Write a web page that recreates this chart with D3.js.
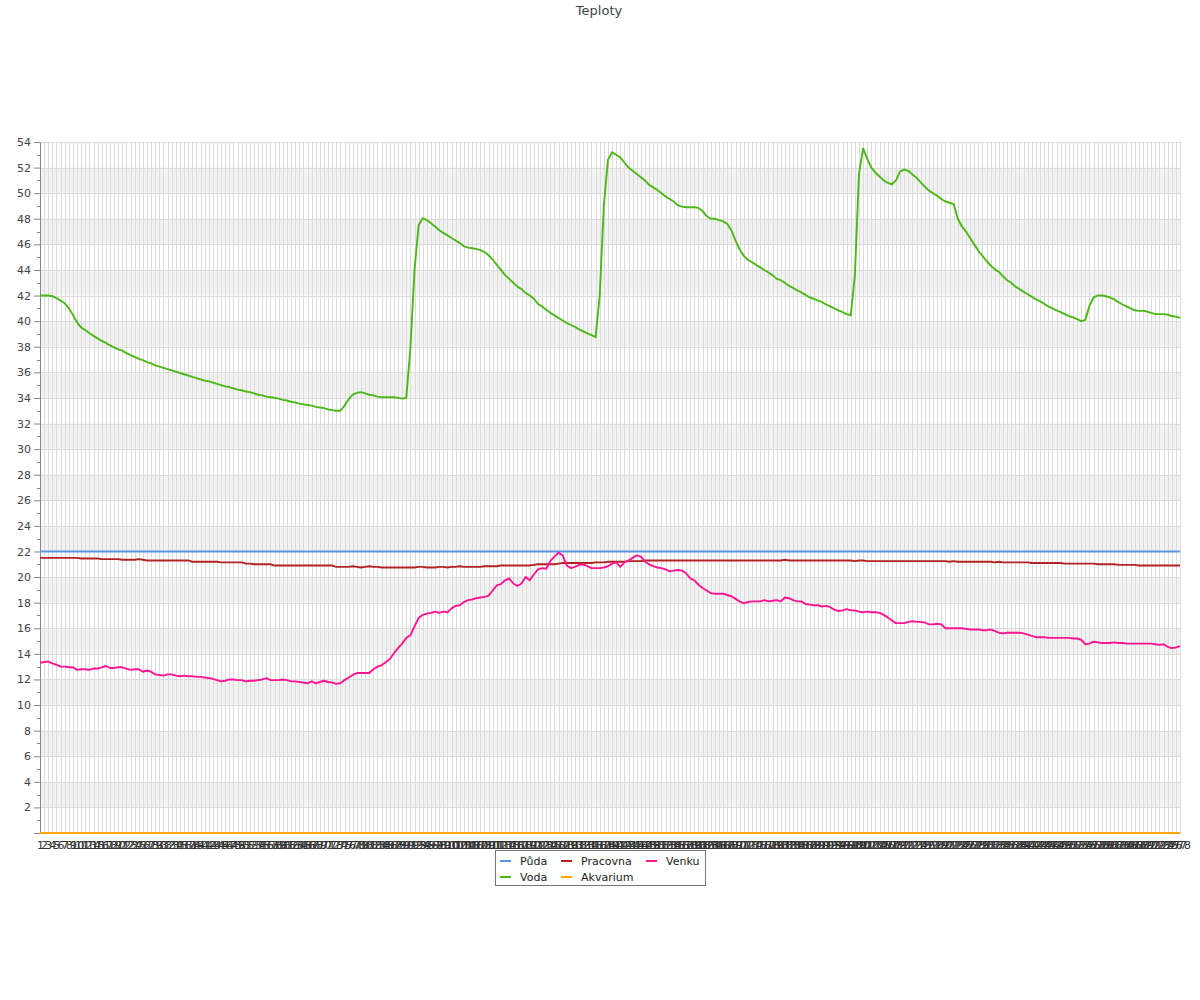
<!DOCTYPE html>
<html><head><meta charset="utf-8">
<script src="https://cdn.jsdelivr.net/npm/d3@7"></script>
<style>body{margin:0;background:#fff;} svg{display:block;font-family:"DejaVu Sans",sans-serif;}</style>
</head><body><svg id="c" width="1200" height="1000"></svg>
<script>
const title = "Teploty";
const seriesNames = ["Půda","Voda","Pracovna","Akvarium","Venku"];
const seriesColors = ["#5f93ea","#4cb817","#b22222","#ffa500","#ff1493"];
const yTicks = [2,4,6,8,10,12,14,16,18,20,22,24,26,28,30,32,34,36,38,40,42,44,46,48,50,52,54];
const categories = d3.range(1, 279).map(String);

const puda = categories.map(() => 22);
const akvarium = categories.map(() => 0);

const voda = [
42.0,42.0,42.0,41.95,41.8,41.6,41.4,41.0,40.5,39.9,
39.5,39.3,39.05,38.85,38.65,38.45,38.3,38.1,37.95,37.8,
37.7,37.5,37.35,37.2,37.05,36.95,36.8,36.7,36.55,36.45,
36.35,36.25,36.15,36.05,35.95,35.85,35.75,35.65,35.55,35.45,
35.35,35.3,35.2,35.1,35.0,34.9,34.85,34.75,34.65,34.6,
34.5,34.45,34.35,34.25,34.2,34.1,34.05,34.0,33.95,33.85,
33.8,33.7,33.65,33.55,33.5,33.45,33.4,33.3,33.25,33.2,
33.1,33.05,33.0,33.0,33.4,33.9,34.25,34.4,34.45,34.35,
34.25,34.2,34.1,34.05,34.05,34.05,34.05,34.0,33.95,34.0,
37.9,44.0,47.5,48.05,47.9,47.65,47.4,47.1,46.9,46.7,
46.5,46.3,46.1,45.85,45.75,45.7,45.65,45.55,45.4,45.15,
44.8,44.4,44.0,43.6,43.3,43.0,42.7,42.5,42.2,42.0,
41.75,41.35,41.15,40.9,40.65,40.45,40.25,40.05,39.85,39.7,
39.55,39.35,39.2,39.05,38.9,38.75,42.0,49.0,52.6,53.2,
53.0,52.8,52.4,52.0,51.75,51.5,51.25,51.0,50.65,50.45,
50.25,50.0,49.75,49.55,49.35,49.05,48.95,48.9,48.9,48.9,
48.85,48.6,48.2,48.0,48.0,47.9,47.8,47.6,47.1,46.3,
45.6,45.1,44.8,44.6,44.4,44.2,44.0,43.8,43.6,43.3,
43.2,43.0,42.75,42.6,42.4,42.25,42.05,41.85,41.75,41.6,
41.5,41.3,41.15,41.0,40.85,40.7,40.55,40.45,43.6,51.5,
53.5,52.7,52.0,51.6,51.3,51.0,50.8,50.7,51.0,51.7,
51.85,51.75,51.45,51.2,50.85,50.5,50.2,50.0,49.8,49.55,
49.35,49.25,49.15,48.0,47.4,47.0,46.5,46.0,45.5,45.1,
44.7,44.35,44.05,43.85,43.5,43.2,43.0,42.7,42.5,42.3,
42.1,41.9,41.7,41.55,41.35,41.15,41.0,40.85,40.7,40.55,
40.4,40.3,40.15,40.0,40.1,41.2,41.85,42.0,42.0,41.95,
41.85,41.7,41.5,41.3,41.15,41.0,40.85,40.8,40.8,40.75,
40.65,40.55,40.55,40.55,40.5,40.4,40.35,40.25
];

const pracovna = [
21.5,21.5,21.5,21.5,21.5,21.5,21.5,21.5,21.5,21.5,
21.45,21.45,21.45,21.45,21.45,21.4,21.4,21.4,21.4,21.4,
21.35,21.35,21.35,21.35,21.4,21.35,21.3,21.3,21.3,21.3,
21.3,21.3,21.3,21.3,21.3,21.3,21.3,21.2,21.2,21.2,
21.2,21.2,21.2,21.2,21.15,21.15,21.15,21.15,21.15,21.15,
21.05,21.05,21.0,21.0,21.0,21.0,21.0,20.9,20.9,20.9,
20.9,20.9,20.9,20.9,20.9,20.9,20.9,20.9,20.9,20.9,
20.9,20.9,20.8,20.8,20.8,20.8,20.85,20.8,20.75,20.8,
20.85,20.8,20.8,20.75,20.75,20.75,20.75,20.75,20.75,20.75,
20.75,20.75,20.8,20.8,20.75,20.75,20.75,20.8,20.8,20.75,
20.8,20.8,20.85,20.8,20.8,20.8,20.8,20.8,20.85,20.85,
20.85,20.85,20.9,20.9,20.9,20.9,20.9,20.9,20.9,20.9,
20.95,21.0,21.0,21.0,21.0,21.0,21.05,21.1,21.1,21.1,
21.1,21.1,21.1,21.1,21.1,21.15,21.15,21.15,21.2,21.2,
21.2,21.2,21.2,21.25,21.25,21.25,21.25,21.3,21.3,21.3,
21.3,21.3,21.3,21.3,21.3,21.3,21.3,21.3,21.3,21.3,
21.3,21.3,21.3,21.3,21.3,21.3,21.3,21.3,21.3,21.3,
21.3,21.3,21.3,21.3,21.3,21.3,21.3,21.3,21.3,21.3,
21.3,21.35,21.3,21.3,21.3,21.3,21.3,21.3,21.3,21.3,
21.3,21.3,21.3,21.3,21.3,21.3,21.3,21.3,21.25,21.3,
21.3,21.25,21.25,21.25,21.25,21.25,21.25,21.25,21.25,21.25,
21.25,21.25,21.25,21.25,21.25,21.25,21.25,21.25,21.25,21.25,
21.25,21.2,21.25,21.2,21.2,21.2,21.2,21.2,21.2,21.2,
21.2,21.2,21.15,21.2,21.15,21.15,21.15,21.15,21.15,21.15,
21.15,21.1,21.1,21.1,21.1,21.1,21.1,21.1,21.1,21.05,
21.05,21.05,21.05,21.05,21.05,21.05,21.05,21.0,21.0,21.0,
21.0,21.0,20.95,20.95,20.95,20.95,20.95,20.9,20.9,20.9,
20.9,20.9,20.9,20.9,20.9,20.9,20.9,20.9
];

const venku = [
13.3,13.35,13.4,13.25,13.15,13.0,13.0,12.95,12.95,12.75,
12.8,12.8,12.75,12.85,12.85,12.95,13.05,12.9,12.9,12.95,
12.95,12.85,12.75,12.8,12.8,12.6,12.7,12.6,12.4,12.35,
12.3,12.4,12.4,12.3,12.25,12.3,12.25,12.25,12.2,12.2,
12.15,12.1,12.05,11.95,11.85,11.9,12.0,12.0,11.95,11.95,
11.85,11.9,11.9,11.95,12.0,12.1,11.95,11.95,11.95,12.0,
11.95,11.85,11.85,11.8,11.75,11.7,11.85,11.7,11.8,11.9,
11.8,11.75,11.65,11.7,11.95,12.15,12.35,12.5,12.5,12.5,
12.5,12.8,13.0,13.1,13.35,13.6,14.05,14.45,14.8,15.25,
15.45,16.15,16.8,17.05,17.15,17.2,17.3,17.2,17.3,17.25,
17.55,17.75,17.8,18.05,18.2,18.25,18.35,18.4,18.45,18.55,
18.95,19.35,19.45,19.75,19.9,19.5,19.3,19.5,20.0,19.75,
20.2,20.6,20.7,20.65,21.25,21.6,21.9,21.7,20.9,20.7,
20.8,20.95,21.0,20.85,20.7,20.7,20.7,20.75,20.85,21.05,
21.15,20.8,21.15,21.3,21.5,21.7,21.6,21.2,21.0,20.85,
20.75,20.7,20.6,20.45,20.5,20.55,20.5,20.3,19.9,19.75,
19.4,19.15,18.95,18.75,18.7,18.7,18.7,18.6,18.5,18.3,
18.1,17.95,18.05,18.1,18.1,18.1,18.2,18.1,18.15,18.2,
18.1,18.4,18.35,18.2,18.1,18.1,17.9,17.85,17.8,17.8,
17.7,17.75,17.65,17.45,17.35,17.4,17.5,17.4,17.4,17.3,
17.25,17.3,17.25,17.25,17.2,17.05,16.85,16.6,16.4,16.4,
16.4,16.5,16.55,16.5,16.5,16.45,16.3,16.3,16.35,16.3,
16.0,16.0,16.0,16.0,16.0,15.95,15.9,15.9,15.9,15.85,
15.85,15.9,15.8,15.65,15.6,15.65,15.65,15.65,15.65,15.6,
15.5,15.4,15.3,15.3,15.3,15.25,15.25,15.25,15.25,15.25,
15.25,15.2,15.2,15.1,14.75,14.8,14.95,14.9,14.85,14.85,
14.85,14.9,14.85,14.85,14.8,14.8,14.8,14.8,14.8,14.8,
14.8,14.75,14.7,14.75,14.55,14.45,14.5,14.6
];

const seriesValues = [puda, voda, pracovna, akvarium, venku];

(function () {
const svg = d3.select("#c");
const pLeft = 40, pRight = 1180, pTop = 142, pBottom = 833;

const x = d3.scalePoint().domain(categories).range([pLeft, pRight]);
const y = d3.scaleLinear().domain([0, 54]).range([pBottom, pTop]);

// title
svg.append("text").attr("x", 599).attr("y", 15).attr("text-anchor", "middle")
  .attr("font-size", 13).attr("fill", "#444").text(title);

// alternating bands
const bandStarts = yTicks.filter(v => v % 4 === 2 && v < 54);
svg.append("g").selectAll("rect").data(bandStarts).join("rect")
  .attr("x", pLeft).attr("width", pRight - pLeft)
  .attr("y", d => y(d + 2)).attr("height", d => y(d) - y(d + 2))
  .attr("fill", "#f2f2f2");

// vertical grid
svg.append("g").selectAll("line").data(categories.slice(1)).join("line")
  .attr("x1", d => Math.round(x(d)) + 0.5).attr("x2", d => Math.round(x(d)) + 0.5)
  .attr("y1", pTop).attr("y2", pBottom)
  .attr("stroke", "#dcdcdc").attr("stroke-width", 1);

// horizontal grid
svg.append("g").selectAll("line").data(yTicks).join("line")
  .attr("x1", pLeft).attr("x2", pRight)
  .attr("y1", d => Math.round(y(d)) + 0.5).attr("y2", d => Math.round(y(d)) + 0.5)
  .attr("stroke", "#dcdcdc").attr("stroke-width", 1);

// y axis
const yAxis = d3.axisLeft(y).tickValues(yTicks).tickSize(6).tickPadding(3);
const yg = svg.append("g").attr("transform", `translate(${pLeft},0)`).call(yAxis);
yg.select(".domain").attr("stroke", "#888");
yg.selectAll(".tick line").attr("stroke", "#888");
yg.selectAll(".tick text").attr("fill", "#444").attr("font-size", 11)
  .attr("font-family", "DejaVu Sans, sans-serif");
const minor = d3.range(1, 54, 2);
svg.append("g").selectAll("line").data(minor).join("line")
  .attr("x1", pLeft - 3).attr("x2", pLeft)
  .attr("y1", d => Math.round(y(d)) + 0.5).attr("y2", d => Math.round(y(d)) + 0.5)
  .attr("stroke", "#888");

// x axis labels
const xAxis = d3.axisBottom(x).tickSize(0).tickPadding(8);
const xg = svg.append("g").attr("transform", `translate(0,${pBottom})`).call(xAxis);
xg.select(".domain").attr("stroke", "#888");
xg.selectAll(".tick text").attr("fill", "#333").attr("font-size", 11)
  .attr("font-family", "DejaVu Sans, sans-serif");

// lines
const line = d3.line().x((d, i) => x(categories[i])).y(d => y(d));
svg.append("g").selectAll("path").data(seriesValues).join("path")
  .attr("d", d => line(d)).attr("fill", "none")
  .attr("stroke", (d, i) => seriesColors[i]).attr("stroke-width", 1.9)
  .attr("stroke-linejoin", "round");

// legend
const lg = svg.append("g");
lg.append("rect").attr("x", 495.5).attr("y", 850.5).attr("width", 210).attr("height", 35)
  .attr("fill", "#fff").attr("stroke", "#777");
const colX = [500, 561, 646];
const rowY = [861, 877];
const legendPos = [[0,0],[0,1],[1,0],[1,1],[2,0]];
seriesNames.forEach((n, i) => {
  const [c, r] = legendPos[i];
  lg.append("line").attr("x1", colX[c]).attr("x2", colX[c] + 11)
    .attr("y1", rowY[r]).attr("y2", rowY[r])
    .attr("stroke", seriesColors[i]).attr("stroke-width", 2);
  lg.append("text").attr("x", colX[c] + 20).attr("y", rowY[r] + 4)
    .attr("font-size", 11).attr("fill", "#222").text(n);
});
})();
</script></body></html>
